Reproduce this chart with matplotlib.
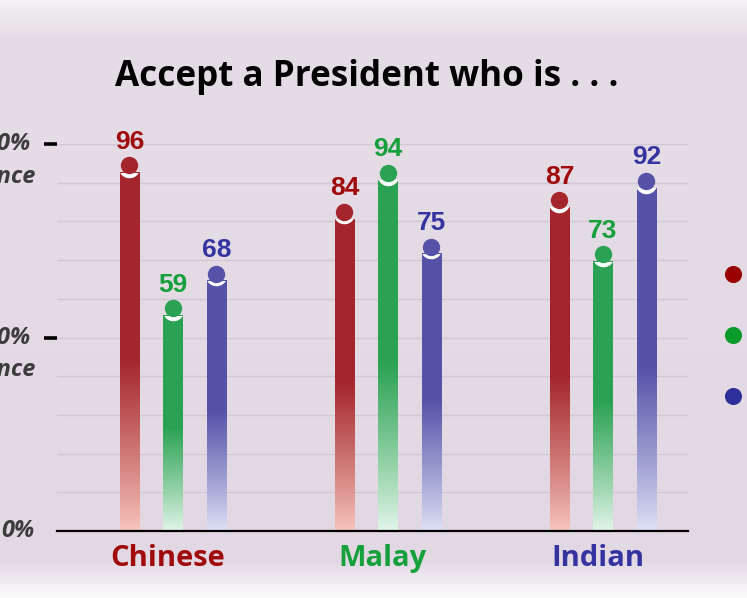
import numpy as np
import matplotlib
matplotlib.use("Agg")
import matplotlib.pyplot as plt
from matplotlib.colors import to_rgb
from matplotlib.patches import Rectangle
from matplotlib.transforms import blended_transform_factory

# ---- data ----
groups = ["Chinese", "Malay", "Indian"]
series = ["Chinese", "Malay", "Indian"]
values = {
    "Chinese": [96, 84, 87],
    "Malay": [59, 94, 73],
    "Indian": [68, 75, 92],
}
title = "Accept a President who is . . ."
ytick_vals = [100, 50, 0]
ytick_labels = ["100%\nAcceptance", "50%\nAcceptance", "0%"]

solid_cols = {"Chinese": "#a4262c", "Malay": "#2ba253", "Indian": "#5552a8"}
pale_cols = {"Chinese": "#f7c6bd", "Malay": "#e4f6ea", "Indian": "#dfe3f6"}
text_cols = {"Chinese": "#a00a0a", "Malay": "#14a03a", "Indian": "#3434a0"}
legend_cols = {"Chinese": "#9a0000", "Malay": "#0a9b2a", "Indian": "#2e2f9b"}

W, H, DPI = 747, 598, 100
fig = plt.figure(figsize=(W / DPI, H / DPI), dpi=DPI)

# ---- background gradient ----
bg = fig.add_axes([0, 0, 1, 1], zorder=-10)
top_c = np.array(to_rgb("#f4f1f4"))
mid_c = np.array(to_rgb("#e5dde6"))
mid2_c = np.array(to_rgb("#e2d8e3"))
bot_c = np.array(to_rgb("#fdfcfd"))
img = np.zeros((H, 2, 3))
for y in range(H):
    if y < 36:
        t = y / 36
        c = top_c * (1 - t) + mid_c * t
    elif y < 560:
        t = (y - 36) / (560 - 36)
        c = mid_c * (1 - t) + mid2_c * t
    else:
        t = min(1, (y - 560) / 38)
        c = mid2_c * (1 - t) + bot_c * t
    img[y, :] = c
bg.imshow(img, aspect="auto", extent=[0, 1, 0, 1], origin="upper", interpolation="nearest")
bg.set_xlim(0, 1)
bg.set_ylim(0, 1)
bg.set_axis_off()

# ---- main axes ----
left_px, right_px, bot_px, top_px = 57, 688, 531, 144
ax = fig.add_axes([left_px / W, 1 - bot_px / H, (right_px - left_px) / W, (bot_px - top_px) / H])
ax.set_facecolor("none")
xmin = -0.5395
xmax = xmin + (right_px - left_px) / 215
ax.set_xlim(xmin, xmax)
ax.set_ylim(0, 100)

for g in range(10, 101, 10):
    ax.axhline(g, color="#d3c6d4", lw=1.0, zorder=0)

offsets = [-0.2023, 0.0, 0.2023]
bw = 0.09
n = 256
for si, s in enumerate(series):
    solid = np.array(to_rgb(solid_cols[s]))
    pale = np.array(to_rgb(pale_cols[s]))
    for gi, v in enumerate(values[s]):
        x = gi + offsets[si]
        dot_y = v - 1.5
        top = dot_y - 1.9
        frac = np.linspace(0, 1, n)  # bottom -> top
        t = np.clip(frac / 0.48, 0, 1) ** 0.9
        cols = pale[None, :] * (1 - t[:, None]) + solid[None, :] * t[:, None]
        grad = cols[:, None, :]
        ax.imshow(grad, aspect="auto", origin="lower",
                  extent=[x - bw / 2, x + bw / 2, 0, top], zorder=2, interpolation="bilinear")
        # white ring that cuts into the bar below the dot
        clip = Rectangle((x - bw / 2, 0), bw, top, transform=ax.transData)
        ring, = ax.plot([x], [dot_y - 0.45], marker="o", ms=15.5, mfc="white", mec="none",
                        zorder=2.5)
        ring.set_clip_path(clip)
        ax.plot([x], [dot_y], marker="o", ms=12.5, mfc=solid_cols[s], mec="none",
                zorder=3, clip_on=False)
        ax.text(x, v + 4.6, str(v), ha="center", va="center", fontsize=19,
                fontweight="bold", color=text_cols[s], family="Liberation Sans",
                zorder=4, clip_on=False)
ax.set_xlim(xmin, xmax)
ax.set_ylim(0, 100)

for sp in ["top", "right", "left"]:
    ax.spines[sp].set_visible(False)
ax.spines["bottom"].set_color("black")
ax.spines["bottom"].set_linewidth(1.6)
ax.set_xticks([])
ax.set_yticks([50, 100])
ax.set_yticklabels([])
ax.tick_params(axis="y", length=9.5, width=2.6, color="black", direction="out")

# y labels (cut at the left edge like the reference)
trans_y = blended_transform_factory(fig.transFigure, ax.transData)
for v, lab in zip(ytick_vals, ytick_labels):
    lines = lab.split("\n")
    x1 = 34 if len(lines) == 1 else 31
    ax.text(x1 / W, v, lines[0], transform=trans_y, ha="right", va="center",
            fontsize=17, fontweight="bold", style="italic", color="#3c3c3c",
            family="Open Sans", clip_on=False)
    if len(lines) > 1:
        ax.text(36 / W, v - 8.4, lines[1], transform=trans_y, ha="right", va="center",
                fontsize=17, fontweight="bold", style="italic", color="#3c3c3c",
                family="Open Sans", clip_on=False)

# category labels
trans_x = blended_transform_factory(ax.transData, ax.transAxes)
for gi, gname in enumerate(groups):
    ax.text(gi - 0.025, -0.07, gname, transform=trans_x, ha="center", va="center",
            fontsize=21, fontweight="bold", color=text_cols[gname],
            family="Open Sans", clip_on=False)

# legend dots (labels lie beyond the right edge)
for k, s in enumerate(series):
    ypx = [274, 335, 396][k]
    ax.plot([733 / W], [1 - ypx / H], marker="o", ms=12.3, mfc=legend_cols[s], mec="none",
            transform=fig.transFigure, clip_on=False)

fig.text(367 / W, 1 - 77 / H, title, ha="center", va="center", fontsize=25.2,
         fontweight="bold", color="black", family="Open Sans")

fig.savefig("out.png", dpi=DPI)
